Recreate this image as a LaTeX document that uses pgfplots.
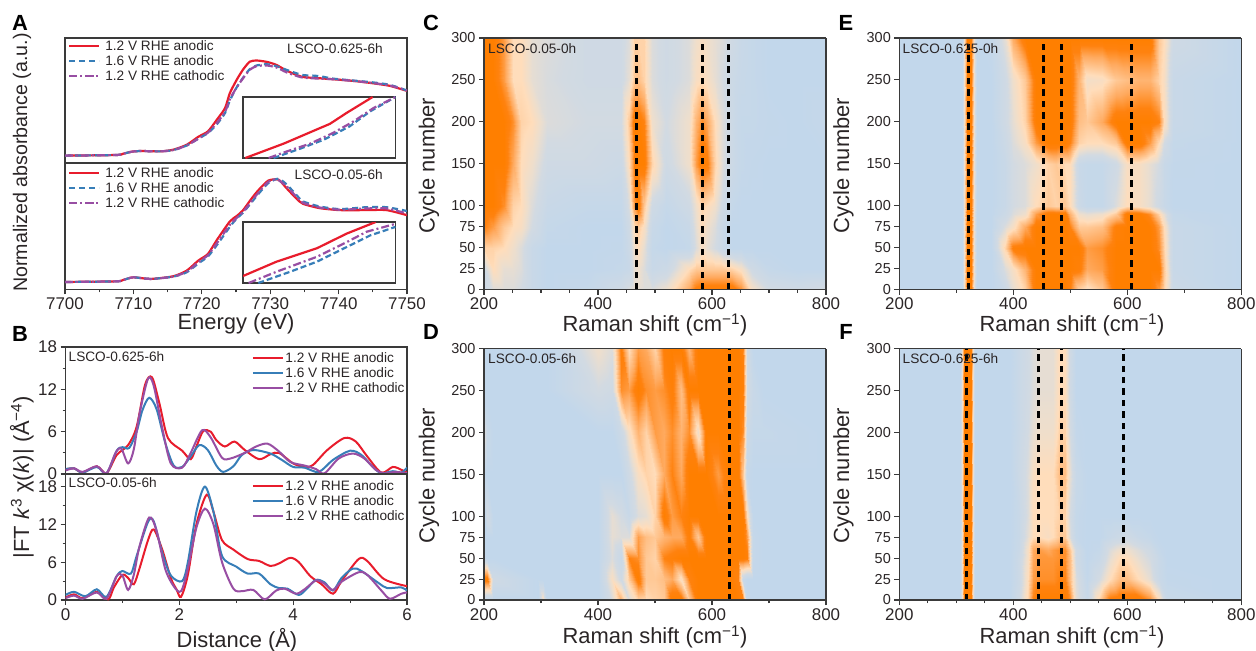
\documentclass[border=0pt]{standalone}
\usepackage{pgfplots}
\pgfplotsset{compat=1.18}
\usepackage{fontspec}
\setmainfont{Liberation Sans}
\definecolor{axc}{HTML}{3A3A3A}
\definecolor{txtc}{HTML}{2A2526}
\definecolor{cr}{HTML}{E81C2C}
\definecolor{cb}{HTML}{377EB8}
\definecolor{cp}{HTML}{984EA3}
\pgfplotsset{
  colormap={raman}{rgb255(0)=(194,215,235) rgb255(25)=(210,218,226) rgb255(38)=(236,222,206) rgb255(50)=(255,221,187) rgb255(75)=(255,170,95) rgb255(90)=(255,130,15) rgb255(100)=(255,127,0)},
  base/.style={scale only axis, anchor=south west,
    axis line style={draw=axc,line width=1.3bp},
    tick style={draw=axc,line width=1.1bp},
    major tick length=5bp, minor tick length=3bp, tick align=outside,
    /pgf/number format/assume math mode=true,
    /pgf/number format/1000 sep={},
    xtick pos=bottom, ytick pos=left,
    tick label style={text=txtc},
    xticklabel style={font=\fontsize{17}{17}\selectfont},
    yticklabel style={font=\fontsize{17}{17}\selectfont},
  },
  xasx/.style={base,xmin=7700,xmax=7750,ymin=0,ymax=100,ytick=\empty,width=342bp},
  ins/.style={scale only axis,anchor=south west,xmin=0,xmax=100,ymin=0,ymax=100,xtick=\empty,ytick=\empty,width=152.5bp,height=61bp,axis line style={draw=axc,line width=1.1bp}},
  lr/.style={cr,line width=2.2bp,smooth,tension=.4,no marks},
  lb/.style={cb,line width=2.2bp,smooth,tension=.4,no marks,dash pattern=on 6bp off 4bp},
  lp/.style={cp,line width=2.2bp,smooth,tension=.4,no marks,dash pattern=on 8bp off 3bp on 2bp off 3bp},
  br/.style={cr,line width=2bp,smooth,tension=.5,no marks},
  bb/.style={cb,line width=2bp,smooth,tension=.5,no marks},
  bp/.style={cp,line width=2bp,smooth,tension=.5,no marks},
  leg/.style={legend style={draw=none,fill=none,inner sep=0pt,outer sep=0pt,
      font=\fontsize{13.7}{15}\selectfont,text=txtc,
      nodes={inner sep=0pt,text height=10bp,text depth=2.5bp},row sep=2.5bp,
      /tikz/every odd column/.append style={column sep=#1}},
      legend cell align=left,
      legend image code/.code={\draw[##1] plot coordinates {(0bp,0bp)(15bp,0bp)(30bp,0bp)};},
      legend plot pos=left},
  hx/.style={base,view={0}{90},width=342bp,height=251.5bp,xmin=200,xmax=800,ymin=0,ymax=300,zmin=0,zmax=1.2,
    ztick=\empty,3d box=complete,xtick={200,400,600,800},
    ytick={0,25,50,75,100,150,200,250,300},
    yticklabel style={font=\fontsize{14.5}{15}\selectfont},axis on top,
    colormap name=raman,point meta min=0,point meta max=1},
  heatsurf/.style={surf,shader=interp},
  dl/.style={black,line width=3bp,dash pattern=on 6.5bp off 4.9bp},
}
\newcommand\hstart{\gdef\data{}}
\newcommand\hrow[2]{\foreach \xx [count=\k from 0] in \xs {\pgfmathsetmacro\vv{{#2}[\k]}\xdef\data{\data(\xx,#1,\vv)}}}
\newcommand\heatplot[2]{\edef\tmp{\noexpand\addplot3[heatsurf,mesh/cols=#2] coordinates {#1};}\tmp}
% ---- panel C
\hstart
\def\xs{200,215,235,250,265,285,310,380,440,455,463,470,480,495,520,560,572,582,592,605,620,635,650,670,700,750,800}
\hrow{300}{1,1,.8,.5,.5,.35,.3,.2,.2,.3,.55,.55,.55,.3,.2,.3,.4,.45,.4,.35,.3,.2,.1,.05,0,0,0}
\hrow{250}{1,1,.8,.5,.5,.35,.28,.2,.2,.35,.6,.65,.55,.3,.2,.3,.45,.5,.45,.35,.25,.15,.08,.05,0,0,0}
\hrow{200}{1,1,1,.85,.55,.5,.3,.25,.25,.6,1,1,.9,.4,.25,.4,.7,.85,.75,.5,.3,.15,.05,.05,.02,0,.05}
\hrow{150}{1,1,1,.75,.5,.4,.2,.2,.15,.5,.9,1,1,.55,.2,.4,.8,1,.95,.55,.3,.15,.05,.02,0,0,0}
\hrow{100}{1,1,.85,.55,.5,.3,.1,.05,.05,.3,.8,1,.6,.2,.05,.2,.4,.55,.5,.4,.2,.05,0,0,0,0,0}
\hrow{75}{.9,.8,.6,.5,.45,.25,.05,0,0,.2,.5,.6,.45,.1,0,.1,.35,.5,.4,.3,.1,0,0,0,0,0,0}
\hrow{50}{.55,.55,.5,.4,.3,.1,0,0,.02,.15,.4,.5,.35,.05,0,.05,.3,.45,.35,.25,.1,0,0,0,0,0,0}
\hrow{25}{.2,.5,.35,.35,.3,.1,0,0,.05,.1,.35,.4,.3,.1,.15,.5,.6,.6,.6,.6,.6,.55,.45,.2,.05,0,0}
\hrow{0}{.15,.3,.3,.3,.25,.1,0,.05,.2,.3,.35,.35,.3,.3,.4,.75,.95,1,1,1,1,1,.85,.45,.25,.2,.25}
\global\let\dataC\data
% ---- panel D
\hstart
\def\xs{200,206,215,295,303,310,400,425,440,455,470,485,500,515,530,545,560,575,590,610,630,645,655,662,672,690,800}
\hrow{300}{0,0,0,0,0,0,.4,.3,.95,.5,.8,.75,.55,.95,1,1,.7,1,1,1,1,1,.9,.2,0,0,0}
\hrow{250}{0,0,0,0,0,0,.25,.2,.85,.8,1,.85,.8,.85,.95,.65,1,1,1,1,1,1,.95,.25,.1,0,0}
\hrow{200}{.35,.1,0,0,0,0,0,0,.15,.45,.7,.55,.8,.75,.85,.7,.85,.4,1,1,1,1,.85,.15,.05,.05,0}
\hrow{150}{0,0,0,0,0,0,0,0,0,.2,.45,.55,.5,.75,.9,.75,1,1,1,.8,1,1,.6,.05,0,0,0}
\hrow{100}{0,.25,0,0,0,0,0,.35,.25,.1,.3,.35,.55,1,.8,.9,1,1,1,1,1,1,1,.5,0,0,0}
\hrow{75}{0,0,0,0,0,0,0,.35,.3,.3,.8,.65,.6,.7,.75,.75,.95,.6,1,1,1,1,1,.8,.05,0,0}
\hrow{50}{.05,0,0,0,0,0,0,.3,.1,.9,.85,.6,.55,.9,.95,1,1,1,1,1,1,1,1,.95,.05,0,0}
\hrow{25}{1,1,.2,0,0,0,0,.45,.2,.6,1,.6,.6,.65,.75,.45,.9,1,1,1,1,.9,.1,0,0,0,0}
\hrow{0}{.1,0,0,0,.45,0,0,.3,.7,.3,.55,.5,.55,.6,1,1,.6,1,1,1,1,1,.9,.05,0,0,0}
\global\let\dataD\data
% ---- panel E
\hstart
\def\xs{200,310,314,318,326,331,336,360,385,400,420,440,460,475,490,500,515,530,555,580,600,620,640,655,665,680,800}
\hrow{300}{0,0,.4,1,1,.4,0,.05,.35,.75,1,1,1,1,1,1,1,1,1,1,1,1,1,.6,.5,.2,0}
\hrow{250}{0,0,.4,1,1,.4,0,0,.2,.4,.6,1,1,1,1,1,.7,.42,.45,.6,.65,.7,.7,.55,.45,.1,0}
\hrow{200}{0,0,.4,1,1,.4,0,0,.2,.35,.55,1,1,1,1,1,.65,.6,.75,1,1,1,1,.9,.5,.1,0}
\hrow{175}{0,0,.4,1,1,.4,0,0,.15,.3,.45,.8,1,1,1,.9,.55,.5,.5,.6,1,1,.8,.5,.25,.05,0}
\hrow{150}{0,0,.4,1,1,.4,0,0,.1,.25,.3,.4,.55,.6,.5,.5,.1,.05,.05,.2,.45,.45,.35,.25,.1,.02,0}
\hrow{100}{0,0,.4,1,1,.4,0,0,.1,.25,.3,.5,.6,.55,.6,.5,.15,.05,.05,.3,.5,.45,.35,.2,.1,0,0}
\hrow{90}{0,0,.4,1,1,.4,0,0,.15,.3,.4,.8,1,1,1,.7,.4,.35,.4,.6,1,1,.85,.55,.35,.05,0}
\hrow{75}{0,0,.4,1,1,.4,0,0,.3,.45,.75,1,1,1,1,.9,.6,.6,.65,.95,1,1,1,.8,.5,.1,0}
\hrow{50}{0,0,.4,1,1,.4,0,0,.55,.95,1,1,1,1,1,1,1,.8,.85,1,1,1,1,.85,.55,.1,0}
\hrow{25}{0,0,.4,1,1,.4,0,0,.3,.45,.7,1,1,1,1,1,.95,.75,.8,1,1,1,1,1,.6,.1,0}
\hrow{0}{0,0,.4,1,1,.4,0,0,.15,.35,.55,1,1,1,1,.9,.55,.45,.6,1,1,1,1,.8,.55,.15,0}
\global\let\dataE\data
% ---- panel F
\hstart
\def\xs{200,306,310,313,325,329,333,395,410,425,435,445,460,470,480,490,500,510,530,550,570,585,600,620,640,655,670,800}
\hrow{300}{0,0,.4,1,1,.4,0,0,.12,.22,.3,.35,.35,.35,.5,.5,.2,0,0,0,0,0,0,0,0,0,0,0}
\hrow{250}{0,0,.4,1,1,.4,0,0,.12,.22,.3,.35,.35,.35,.5,.5,.2,0,0,0,0,0,0,0,0,0,0,0}
\hrow{200}{0,0,.4,1,1,.4,0,0,.12,.25,.35,.4,.4,.4,.55,.55,.25,.03,0,0,0,0,0,0,0,0,0,0}
\hrow{150}{0,0,.4,1,1,.4,0,0,.15,.3,.45,.5,.5,.5,.65,.65,.35,.1,0,0,0,0,0,0,0,0,0,0}
\hrow{100}{0,0,.4,1,1,.4,0,0,.1,.3,.5,.5,.5,.5,.55,.55,.25,.05,0,0,0,0,0,0,0,0,0,0}
\hrow{75}{0,0,.4,1,1,.4,0,0,.1,.35,.5,.5,.45,.5,.6,.6,.3,.05,0,0,.1,.15,.2,.1,.05,0,0,0}
\hrow{60}{0,0,.4,1,1,.4,0,0,.12,.45,.75,.8,.75,.8,.85,.85,.6,.2,0,.05,.3,.4,.4,.3,.2,.05,0,0}
\hrow{50}{0,0,.4,1,1,.4,0,0,.15,.45,.75,.82,.82,.82,.85,.85,.65,.2,0,.1,.35,.5,.5,.35,.25,.1,0,0}
\hrow{25}{0,0,.4,1,1,.4,0,0,.15,.5,.8,.85,.85,.85,.9,.9,.65,.3,.03,.25,.5,.65,.65,.5,.35,.12,.02,0}
\hrow{0}{0,0,.4,1,1,.4,0,0,.2,.55,.9,1,1,1,1,1,.85,.35,.1,.55,.95,1,1,1,.85,.5,.1,0}
\global\let\dataF\data
\begin{document}
\begin{tikzpicture}[x=1bp,y=1bp]
\path[use as bounding box] (0,0) rectangle (1256,-651);
% ============ A top
\begin{axis}[xasx,leg=5bp,at={(65bp,-163bp)},height=125bp,xtick=\empty,
  legend style={at={(0.009,0.984)},anchor=north west}]
\addplot[lr] coordinates {(7700,5.9)(7707.5,6.4)(7708.5,7.4)(7709.7,9)(7711,9.6)(7713.9,9.3)(7715.8,10.6)(7717.8,14.6)(7719.5,21)(7720.9,25.3)(7722.2,34.6)(7723.4,43.9)(7724.1,55.9)(7725.1,66.5)(7726,74.5)(7727,81)(7728,82)(7729.5,80.9)(7730.9,78.5)(7732.4,73.9)(7734.6,69)(7737.2,67.8)(7739.2,67)(7742.1,65.7)(7745,63.8)(7747.5,61.7)(7750,57.7)};
\addplot[lb] coordinates {(7700,5.9)(7707.5,6.4)(7708.5,7.4)(7709.7,9)(7711,9.6)(7713.9,9.3)(7715.8,10.3)(7717.8,14)(7719.5,19.5)(7720.9,24)(7722.2,31)(7723.4,40)(7724.1,50)(7725.1,60.5)(7726,68)(7727,75)(7728,78)(7729.5,79)(7730.9,77.5)(7732.4,74.5)(7734.6,70.5)(7736,70)(7737.2,69.5)(7739.2,67.5)(7742.1,66)(7745,64.5)(7747.5,62.5)(7750,58)};
\addplot[lp] coordinates {(7700,5.9)(7707.5,6.4)(7708.5,7.4)(7709.7,9)(7711,9.6)(7713.9,9.3)(7715.8,10.3)(7717.8,14)(7719.5,19.5)(7720.9,24.3)(7722.2,32)(7723.4,41)(7724.1,51)(7725.1,60.5)(7726,67.5)(7727,74.5)(7728,77.5)(7729.5,78)(7730.9,76.5)(7732.4,72.5)(7734.6,68.5)(7737.2,67.5)(7739.2,67)(7742.1,65.7)(7745,64)(7747.5,62)(7750,58)};
\legend{1.2 V RHE anodic,1.6 V RHE anodic,1.2 V RHE cathodic}
\end{axis}
\begin{axis}[ins,at={(243bp,-158bp)}]
\addplot[cr,line width=2.2bp,no marks] coordinates {(1.5,0)(26.6,23.5)(57,56)(68,74)(85,100)};
\addplot[cb,line width=2.2bp,no marks,dash pattern=on 6bp off 3bp] coordinates {(20,0)(37.5,15.3)(53,30)(70,52)(83.4,76.5)(100,100)};
\addplot[cp,line width=2.2bp,no marks,dash pattern=on 8bp off 3bp on 2bp off 3bp] coordinates {(16.8,0)(29,11)(44,23.5)(59,41)(72.5,60)(85.6,82)(100,100)};
\end{axis}
% ============ A bottom
\begin{axis}[xasx,leg=5bp,at={(65bp,-289.3bp)},height=126.3bp,xtick={7700,7710,...,7750},
  minor xtick={7705,7715,...,7745},
  legend style={at={(0.009,0.968)},anchor=north west}]
\addplot[lr] coordinates {(7700,5.8)(7707.5,6.3)(7708.5,7.4)(7710,9.5)(7712.5,8.2)(7715.8,10.3)(7717.8,14.8)(7719.5,22.8)(7720.9,28)(7722.2,39)(7724.1,53.7)(7725.1,58)(7726,62.4)(7727.3,72)(7728.2,78)(7729.7,86)(7731.2,86.8)(7732.4,80)(7733.8,72)(7734.8,67.7)(7737.2,64.3)(7740.2,62.7)(7744,62.7)(7747,62.7)(7750,58.7)};
\addplot[lb] coordinates {(7700,5.8)(7707.5,6.3)(7708.5,7.4)(7710,9.5)(7712.5,8.2)(7715.8,10)(7717.8,13.5)(7719.5,20.5)(7720.9,26)(7722.2,35)(7724.1,49.5)(7725.1,56)(7726,60.5)(7727.3,69)(7728.2,75)(7729.7,84)(7731.2,87.6)(7732.4,83)(7733.8,74.9)(7734.8,69.6)(7737.2,65.6)(7740.2,63.5)(7744,65)(7747,65)(7750,62)};
\addplot[lp] coordinates {(7700,5.8)(7707.5,6.3)(7708.5,7.4)(7710,9.5)(7712.5,8.2)(7715.8,10)(7717.8,14)(7719.5,21.5)(7720.9,27)(7722.2,36.5)(7724.1,51)(7725.1,56.5)(7726,61)(7727.3,70)(7728.2,76)(7729.7,85)(7731,87)(7732.4,81.5)(7733.8,73.5)(7734.8,68.5)(7737.2,64.8)(7740.2,63)(7744,64)(7747,64)(7750,60)};
\legend{1.2 V RHE anodic,1.6 V RHE anodic,1.2 V RHE cathodic}
\end{axis}
\begin{axis}[ins,at={(243bp,-283bp)}]
\addplot[cr,line width=2.2bp,no marks] coordinates {(0,11.4)(22,35)(48.5,57)(68,81)(87,100)};
\addplot[cb,line width=2.2bp,no marks,dash pattern=on 6bp off 3bp] coordinates {(10,0)(31,18.5)(48.5,35)(68,59)(83.4,78)(100,92)};
\addplot[cp,line width=2.2bp,no marks,dash pattern=on 8bp off 3bp on 2bp off 3bp] coordinates {(3.7,0)(22,18.5)(48.5,43)(68,67)(81,84)(100,97)};
\end{axis}
% ============ B top
\begin{axis}[base,leg=1.5bp,at={(65.5bp,-474bp)},width=341.5bp,height=127bp,xmin=0,xmax=6,ymin=0,ymax=18,xtick=\empty,
  ytick={0,6,12,18},minor ytick={3,9,15},
  legend style={at={(0.546,0.96)},anchor=north west}]
\addplot[br] coordinates {(0,.66)(.15,.8)(.3,.2)(.55,1.1)(.72,.1)(.9,2.7)(1.1,4.1)(1.25,6.7)(1.4,12.7)(1.52,13.7)(1.65,10)(1.8,5.1)(2.05,3.3)(2.2,2.1)(2.3,3.9)(2.42,6.1)(2.55,6)(2.65,4.8)(2.8,3.9)(2.97,4.6)(3.15,3.4)(3.4,2.1)(3.6,2.8)(3.75,3)(4,1.5)(4.2,1)(4.35,1.3)(4.6,3.4)(4.9,5.1)(5.1,4.6)(5.3,2.5)(5.55,.2)(5.75,1)(5.9,.6)(6,.2)};
\addplot[bb] coordinates {(0,.7)(.15,.8)(.3,.2)(.55,1)(.72,.1)(.9,3.3)(1,3.8)(1.12,3.7)(1.25,6)(1.35,9)(1.47,10.8)(1.6,9.2)(1.75,4.5)(1.9,1.2)(2.05,1)(2.2,2.5)(2.35,4.1)(2.5,3.4)(2.65,1.2)(2.77,.3)(2.95,1.1)(3.1,2.7)(3.3,3.4)(3.6,2.9)(3.8,2)(4,1)(4.2,.9)(4.45,.3)(4.7,2)(5,3.3)(5.2,2.7)(5.4,1)(5.55,.1)(5.75,.4)(5.9,.2)(6,.9)};
\addplot[bp] coordinates {(0,.5)(.15,.8)(.3,.3)(.55,1.1)(.72,.1)(.88,3)(.98,3.6)(1.1,1.5)(1.2,3.5)(1.3,8.5)(1.45,13.5)(1.55,12.5)(1.7,6.5)(1.85,1.5)(2.05,.9)(2.2,3)(2.4,6.2)(2.55,5.2)(2.75,2.3)(2.9,2.2)(3.15,3)(3.35,3.9)(3.55,4.3)(3.75,3.2)(3.95,1.7)(4.2,1.2)(4.4,.7)(4.55,.1)(4.8,2.2)(5.05,2.9)(5.25,2.2)(5.45,.6)(5.6,.1)(5.8,.3)(6,.1)};
\legend{1.2 V RHE anodic,1.6 V RHE anodic,1.2 V RHE cathodic}
\end{axis}
% ============ B bottom
\begin{axis}[base,leg=1.5bp,at={(65.5bp,-600bp)},width=341.5bp,height=126bp,xmin=0,xmax=6,ymin=0,ymax=20,xtick={0,2,4,6},minor xtick={1,3,5},
  ytick={0,6,12,18},minor ytick={3,9,15},
  legend style={at={(0.546,0.952)},anchor=north west}]
\addplot[br] coordinates {(0,.4)(.15,.9)(.3,.3)(.55,1.3)(.75,.1)(.85,2)(1,4)(1.1,3.5)(1.2,2.5)(1.3,5)(1.45,9.5)(1.55,11.2)(1.7,8)(1.85,3.5)(1.95,1.7)(2.03,.5)(2.15,4)(2.3,12)(2.48,16.7)(2.6,14)(2.75,9.5)(2.95,8)(3.2,6.5)(3.4,6.2)(3.6,5.4)(3.75,5.8)(3.95,6.7)(4.1,6)(4.3,3.8)(4.5,2.5)(4.7,1)(4.85,3)(5.15,6.5)(5.3,6.2)(5.6,3.3)(6,2.2)};
\addplot[bb] coordinates {(0,.8)(.15,1.3)(.35,.6)(.55,1.7)(.72,.5)(.9,3.8)(1,4.6)(1.15,4.2)(1.25,7)(1.45,12.4)(1.55,12.5)(1.7,7.5)(1.85,3.9)(2.05,3)(2.15,6)(2.3,14)(2.45,18)(2.6,14)(2.75,7)(3,5.3)(3.2,4.2)(3.4,4.2)(3.6,2.5)(3.75,1.9)(3.9,1.8)(4.1,.8)(4.25,1.9)(4.4,3.2)(4.55,2.8)(4.7,1.5)(4.85,3.5)(5.05,5)(5.2,4.6)(5.5,2.7)(5.65,1.9)(5.9,2)(6,1.5)};
\addplot[bp] coordinates {(0,.3)(.15,.7)(.3,.2)(.55,1.2)(.72,.2)(.9,3.8)(1,3.9)(1.1,1.6)(1.2,4)(1.3,8.5)(1.47,13.1)(1.6,11)(1.75,5)(1.9,2.2)(2.03,1.4)(2.15,5)(2.3,11.5)(2.45,14.5)(2.6,12)(2.75,6)(2.95,1.8)(3.1,1.4)(3.3,1.6)(3.5,.1)(3.7,1.5)(3.85,1.8)(4.05,1)(4.2,1.7)(4.4,3.1)(4.55,2.6)(4.7,1.6)(4.85,2.9)(5.15,4.4)(5.3,4)(5.55,1.5)(5.7,.2)(5.9,1)(6,1.2)};
\legend{1.2 V RHE anodic,1.6 V RHE anodic,1.2 V RHE cathodic}
\end{axis}
% ============ C
\begin{axis}[hx,at={(484bp,-289.5bp)},minor xtick={250,300,350,450,500,550,650,700,750}]
\heatplot{\dataC}{27}
\addplot3[dl] coordinates {(468,0,1.1)(468,300,1.1)};
\addplot3[dl] coordinates {(583,0,1.1)(583,300,1.1)};
\addplot3[dl] coordinates {(629,0,1.1)(629,300,1.1)};
\end{axis}
% ============ D
\begin{axis}[hx,at={(484bp,-600bp)},minor xtick={300,500,700}]
\heatplot{\dataD}{27}
\addplot3[dl] coordinates {(630,0,1.1)(630,300,1.1)};
\end{axis}
% ============ E
\begin{axis}[hx,at={(899.3bp,-289.5bp)},minor xtick={300,500,700}]
\heatplot{\dataE}{27}
\addplot3[dl] coordinates {(321,0,1.1)(321,300,1.1)};
\addplot3[dl] coordinates {(453,0,1.1)(453,300,1.1)};
\addplot3[dl] coordinates {(485,0,1.1)(485,300,1.1)};
\addplot3[dl] coordinates {(606.5,0,1.1)(606.5,300,1.1)};
\end{axis}
% ============ F
\begin{axis}[hx,at={(899.3bp,-600bp)},minor xtick={250,300,350,450,500,550,650,700,750}]
\heatplot{\dataF}{28}
\addplot3[dl] coordinates {(318,0,1.1)(318,300,1.1)};
\addplot3[dl] coordinates {(445,0,1.1)(445,300,1.1)};
\addplot3[dl] coordinates {(485,0,1.1)(485,300,1.1)};
\addplot3[dl] coordinates {(594,0,1.1)(594,300,1.1)};
\end{axis}
% ============ texts
\tikzset{t/.style={text=txtc,inner sep=0pt},s/.style={t,anchor=west,font=\fontsize{13.7}{15}\selectfont},
 pl/.style={text=black,inner sep=0pt,font=\fontsize{22}{24}\bfseries\selectfont},
 al/.style={t,font=\fontsize{22}{24}\selectfont}}
\node[pl] at (20,-23) {A};
\node[pl] at (20,-334) {B};
\node[pl] at (431,-23) {C};
\node[pl] at (431,-332) {D};
\node[pl] at (846,-23) {E};
\node[pl] at (846,-332) {F};
\node[s] at (287,-48.5) {LSCO-0.625-6h};
\node[s] at (294.5,-174.5) {LSCO-0.05-6h};
\node[s] at (68.5,-357) {LSCO-0.625-6h};
\node[s] at (68.5,-483) {LSCO-0.05-6h};
\node[s] at (488,-49) {LSCO-0.05-0h};
\node[s] at (488,-359) {LSCO-0.05-6h};
\node[s] at (902.5,-49) {LSCO-0.625-0h};
\node[s] at (902.5,-359) {LSCO-0.625-6h};
\node[t,rotate=90,font=\fontsize{19.7}{22}\selectfont] at (22,-162.5) {Normalized absorbance (a.u.)};
\node[t,rotate=90,font=\fontsize{22}{24}\selectfont] at (22,-477) {|FT \textit{k}\textsuperscript{3} χ(\textit{k})| (Å\textsuperscript{−4})};
\node[al] at (236,-324) {Energy (eV)};
\node[al] at (237,-640) {Distance (Å)};
\node[al] at (655,-325) {Raman shift (cm\textsuperscript{−1})};
\node[al] at (655,-637) {Raman shift (cm\textsuperscript{−1})};
\node[al] at (1072,-325) {Raman shift (cm\textsuperscript{−1})};
\node[al] at (1072,-637) {Raman shift (cm\textsuperscript{−1})};
\node[al,rotate=90] at (429,-165.5) {Cycle number};
\node[al,rotate=90] at (429,-475.5) {Cycle number};
\node[al,rotate=90] at (843.5,-165.5) {Cycle number};
\node[al,rotate=90] at (843.5,-475.5) {Cycle number};
\end{tikzpicture}
\end{document}
